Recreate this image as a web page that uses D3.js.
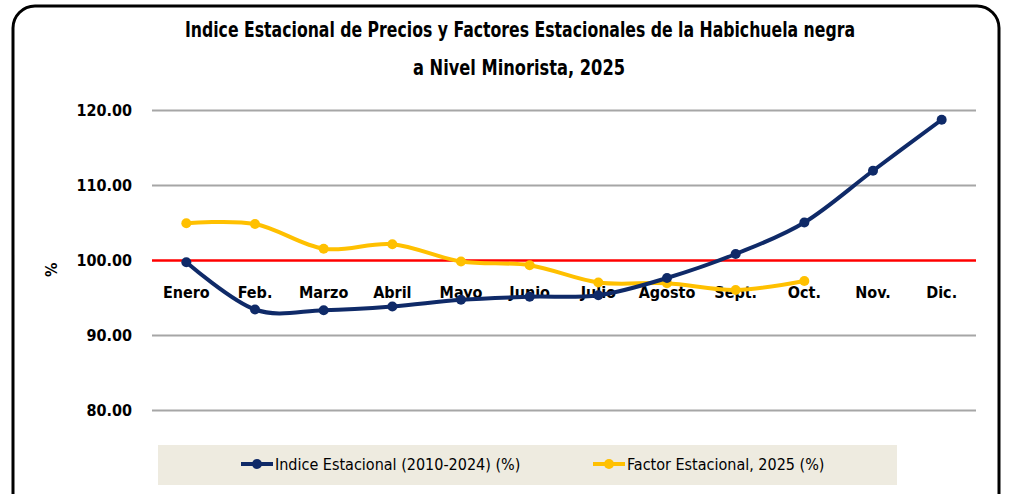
<!DOCTYPE html>
<html>
<head>
  <meta charset="utf-8">
  <title>Indice Estacional Habichuela negra</title>
  <script src="https://d3js.org/d3.v7.min.js"></script>
  <style>
    body { margin: 0; background: #fff; }
    text { font-family: "Liberation Sans Narrow", "DejaVu Sans Condensed", "Liberation Sans", sans-serif; }
  </style>
</head>
<body>
  <div id="chart"></div>

<script>
  // data
  const months = ["Enero", "Feb.", "Marzo", "Abril", "Mayo", "Junio", "Julio", "Agosto", "Sept.", "Oct.", "Nov.", "Dic."];
  const indiceEstacional = [99.7, 93.4, 93.3, 93.8, 94.7, 95.1, 95.3, 97.6, 100.8, 105.0, 111.9, 118.7];
  const factorEstacional = [104.9, 104.8, 101.5, 102.1, 99.8, 99.3, 97.0, 96.9, 96.0, 97.2];
  const yTicks = [80, 90, 100, 110, 120];
  const seriesNames = ["Indice Estacional (2010-2024) (%)", "Factor Estacional, 2025 (%)"];

  const W = 1012, H = 494;
  const margin = {top: 110, right: 36, bottom: 84, left: 152};
  const width = W - margin.left - margin.right,
        height = H - margin.top - margin.bottom;

  const svg = d3.select("#chart")
    .append("svg")
      .attr("width", W)
      .attr("height", H);

  // rounded frame
  svg.append("rect")
    .attr("x", 13).attr("y", 6)
    .attr("width", 986).attr("height", 520)
    .attr("rx", 22)
    .attr("fill", "#fff")
    .attr("stroke", "#000")
    .attr("stroke-width", 3);

  // title (squeezed to look like the narrow font of the original)
  svg.append("text")
    .attr("x", 520).attr("y", 37)
    .attr("text-anchor", "middle")
    .attr("font-size", 21).attr("font-weight", "bold")
    .attr("textLength", 670).attr("lengthAdjust", "spacingAndGlyphs")
    .text("Indice Estacional de Precios y Factores Estacionales de la Habichuela negra");
  svg.append("text")
    .attr("x", 519).attr("y", 75)
    .attr("text-anchor", "middle")
    .attr("font-size", 21).attr("font-weight", "bold")
    .attr("textLength", 212).attr("lengthAdjust", "spacingAndGlyphs")
    .text("a Nivel Minorista, 2025");

  const g = svg.append("g")
    .attr("transform", `translate(${margin.left},${margin.top})`);

  const x = d3.scaleBand()
    .domain(months)
    .range([0, width]);

  const y = d3.scaleLinear()
    .domain([80, 120])
    .range([300, 0]);

  // gridlines + y labels
  const yAxis = g.append("g")
    .call(d3.axisLeft(y).tickValues(yTicks).tickFormat(d3.format(".2f")).tickSize(-width).tickPadding(20));
  yAxis.select(".domain").remove();
  yAxis.selectAll(".tick line")
    .attr("stroke", d => d === 100 ? "#ff0000" : "#a6a6a6")
    .attr("stroke-width", d => d === 100 ? 2.5 : 2);
  yAxis.selectAll(".tick text")
    .attr("font-size", 16).attr("font-weight", "bold")
    .attr("fill", "#000")
    .style("font-family", "\"Liberation Sans Narrow\", \"DejaVu Sans Condensed\", sans-serif");

  // y axis title
  svg.append("text")
    .attr("transform", `translate(57,${margin.top + y(98.7)}) rotate(-90)`)
    .attr("text-anchor", "middle")
    .attr("font-size", 16).attr("font-weight", "bold")
    .text("%");

  // category labels next to the 100 line
  g.append("g")
    .selectAll("text")
    .data(months)
    .join("text")
      .attr("x", d => x(d) + x.bandwidth() / 2)
      .attr("y", y(100) + 38)
      .attr("text-anchor", "middle")
      .attr("font-size", 16).attr("font-weight", "bold")
      .text(d => d);

  const line = d3.line()
    .x((d, i) => x(months[i]) + x.bandwidth() / 2)
    .y(d => y(d))
    .curve(d3.curveCatmullRom.alpha(0));

  const series = [
    {values: factorEstacional, color: "#ffc000"},
    {values: indiceEstacional, color: "#0f2a68"}
  ];

  series.forEach(s => {
    g.append("path")
      .datum(s.values)
      .attr("fill", "none")
      .attr("stroke", s.color)
      .attr("stroke-width", 4)
      .attr("d", line);
    g.selectAll(null)
      .data(s.values)
      .join("circle")
        .attr("cx", (d, i) => x(months[i]) + x.bandwidth() / 2)
        .attr("cy", d => y(d))
        .attr("r", 5)
        .attr("fill", s.color);
  });

  // legend
  const legend = svg.append("g");
  legend.append("rect")
    .attr("x", 158).attr("y", 445)
    .attr("width", 739).attr("height", 40)
    .attr("fill", "#eeebe0");
  const legendItems = [
    {name: seriesNames[0], color: "#0f2a68", x: 241},
    {name: seriesNames[1], color: "#ffc000", x: 593}
  ];
  legendItems.forEach(it => {
    legend.append("line")
      .attr("x1", it.x).attr("x2", it.x + 32)
      .attr("y1", 464).attr("y2", 464)
      .attr("stroke", it.color).attr("stroke-width", 4);
    legend.append("circle")
      .attr("cx", it.x + 16).attr("cy", 464).attr("r", 5)
      .attr("fill", it.color);
    legend.append("text")
      .attr("x", it.x + 34).attr("y", 470)
      .attr("font-size", 16)
      .text(it.name);
  });
</script>
</body>
</html>
